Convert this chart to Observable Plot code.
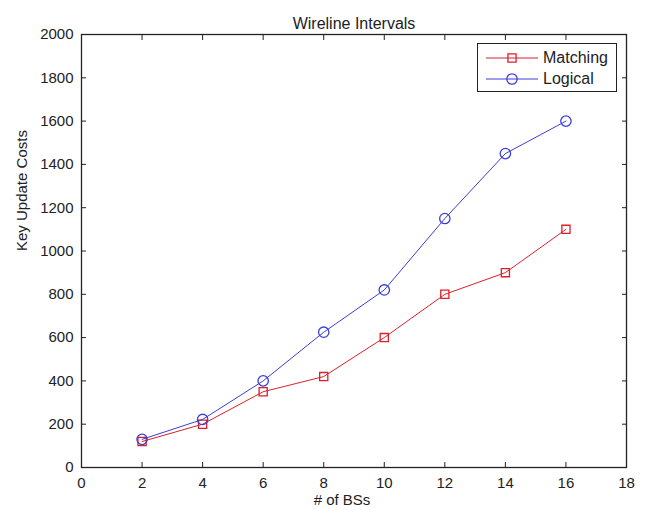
<!DOCTYPE html>
<html><head><meta charset="utf-8">
<script src="https://cdn.jsdelivr.net/npm/d3@7"></script>
<script src="https://cdn.jsdelivr.net/npm/@observablehq/plot@0.6"></script>
<style>
body{margin:0;background:#fff;font-family:"Liberation Sans",Arial,sans-serif}
#wrap{position:relative;width:653px;height:510px}
#legend{position:absolute;left:477px;top:43px;width:140px;height:49px;border:1.5px solid #222;background:#fff;box-sizing:border-box;padding-top:3px}
.row{display:flex;align-items:center;height:21px;font-size:16px;color:#222}
.row svg{margin-left:8px;margin-right:5px}
</style></head><body><div id="wrap"><div id="legend"></div></div>
<script>
const bs = [2, 4, 6, 8, 10, 12, 14, 16];
const matching = [120, 200, 350, 420, 600, 800, 900, 1100];
const logical = [130, 222, 400, 625, 820, 1150, 1450, 1600];
const seriesNames = ["Matching", "Logical"];
const seriesColors = ["#dd1f2a", "#3b3fd6"];
const seriesSymbols = ["square", "circle"];
const xTicks = [0, 2, 4, 6, 8, 10, 12, 14, 16, 18];
const yTicks = [0, 200, 400, 600, 800, 1000, 1200, 1400, 1600, 1800, 2000];
const title = "Wireline Intervals";
const xLabel = "# of BSs";
const yLabel = "Key Update Costs";

const data = [];
bs.forEach((b, i) => {
  data.push({x: b, y: matching[i], s: seriesNames[0]});
  data.push({x: b, y: logical[i], s: seriesNames[1]});
});
const symR = [4.6, 5.2];

const marks = [
  Plot.frame({stroke: "#222", strokeWidth: 1.3}),
  Plot.axisX(xTicks, {anchor: "bottom", tickSize: -5, fill: "none", label: null, stroke: "#222"}),
  Plot.axisX(xTicks, {anchor: "top", tickSize: -5, fill: "none", label: null, stroke: "#222"}),
  Plot.axisY(yTicks, {anchor: "left", tickSize: -5, fill: "none", label: null, stroke: "#222"}),
  Plot.axisY(yTicks, {anchor: "right", tickSize: -5, fill: "none", label: null, stroke: "#222"}),
  Plot.axisX(xTicks, {anchor: "bottom", tickSize: 0, tickPadding: 10, label: null, fill: "#222", tickFormat: d => String(d)}),
  Plot.axisY(yTicks, {anchor: "left", tickSize: 0, tickPadding: 8, label: null, fill: "#222", tickFormat: d => String(d)}),
  Plot.text([title], {frameAnchor: "top", dy: -17, fontSize: 16, fill: "#222"}),
  Plot.text([xLabel], {frameAnchor: "bottom", dy: 37, dx: -12, fontSize: 15, fill: "#222"}),
  Plot.text([yLabel], {frameAnchor: "left", dx: -59, rotate: -90, fontSize: 15, fill: "#222"})
];
seriesNames.forEach((name, k) => {
  const d = data.filter(e => e.s === name);
  marks.push(Plot.line(d, {x: "x", y: "y", stroke: seriesColors[k], strokeWidth: 1}));
  marks.push(Plot.dot(d, {x: "x", y: "y", stroke: seriesColors[k], symbol: seriesSymbols[k], r: symR[k], strokeWidth: 1.3, fill: "none"}));
});

const chart = Plot.plot({
  width: 653, height: 510,
  marginLeft: 81, marginRight: 27, marginTop: 34, marginBottom: 43,
  style: {fontFamily: "Liberation Sans, Arial, sans-serif", fontSize: "15px", background: "#fff", color: "#222"},
  x: {domain: [0, 18]},
  y: {domain: [0, 2000]},
  marks
});
document.getElementById("wrap").prepend(chart);

const legend = d3.select("#legend");
seriesNames.forEach((name, k) => {
  const row = legend.append("div").attr("class", "row");
  const svg = row.append("svg").attr("width", 52).attr("height", 14);
  svg.append("line").attr("x1", 0).attr("x2", 52).attr("y1", 7).attr("y2", 7).attr("stroke", seriesColors[k]).attr("stroke-width", 1);
  svg.append("path").attr("transform", "translate(26,7)")
    .attr("d", d3.symbol(k === 0 ? d3.symbolSquare : d3.symbolCircle, symR[k] ** 2 * Math.PI)())
    .attr("fill", "none").attr("stroke", seriesColors[k]).attr("stroke-width", 1.3);
  row.append("span").text(name);
});
</script>
</body></html>
